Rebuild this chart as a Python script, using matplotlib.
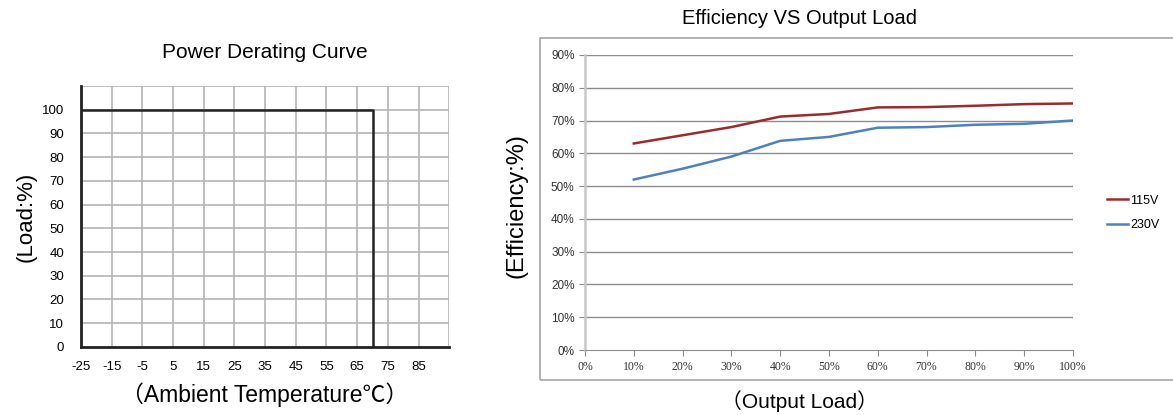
import matplotlib.pyplot as plt
from matplotlib.patches import Rectangle

plt.rcParams['font.family'] = ['Liberation Sans', 'Noto Sans CJK SC', 'DejaVu Sans']
plt.rcParams['axes.unicode_minus'] = False

# derating curve
temp = [-25, 70, 70]
load = [100, 100, 0]
temp_ticks = [-25, -15, -5, 5, 15, 25, 35, 45, 55, 65, 75, 85]
load_ticks = [0, 10, 20, 30, 40, 50, 60, 70, 80, 90, 100]

# efficiency curves
out_load = [10, 20, 30, 40, 50, 60, 70, 80, 90, 100]
eff_115 = [63, 65.5, 68, 71.2, 72, 74, 74.1, 74.5, 75, 75.2]
eff_230 = [52, 55.3, 59, 63.8, 65, 67.8, 68, 68.7, 69, 70]
pct_ticks = [0, 10, 20, 30, 40, 50, 60, 70, 80, 90, 100]
eff_ticks = [0, 10, 20, 30, 40, 50, 60, 70, 80, 90]

fig = plt.figure(figsize=(11.73, 4.15), dpi=100)

# ---- left: Power Derating Curve
ax1 = fig.add_axes([0.069, 0.164, 0.314, 0.629])
ax1.set_xlim(-25, 95)
ax1.set_ylim(0, 110)
for x in temp_ticks[1:] + [95]:
    ax1.axvline(x, color="#b4b4b4", lw=1.2, zorder=1)
for y in load_ticks[1:] + [110]:
    ax1.axhline(y, color="#b4b4b4", lw=1.2, zorder=1)
ax1.plot(temp, load, color="#222222", lw=1.8, zorder=3)
ax1.set_xticks(temp_ticks)
ax1.set_yticks(load_ticks)
ax1.tick_params(length=0, labelsize=9.5, pad=10)
ax1.tick_params(axis="y", pad=12)
for s in ["top", "right"]:
    ax1.spines[s].set_visible(False)
for s in ["left", "bottom"]:
    ax1.spines[s].set_linewidth(2)
    ax1.spines[s].set_color("#222222")
ax1.set_title("Power Derating Curve", fontsize=15, pad=20)
ax1.set_ylabel("(Load:%)", fontsize=16)
ax1.yaxis.set_label_coords(-0.12, 0.5)
ax1.set_xlabel("（Ambient Temperature℃）", fontsize=16.5, labelpad=7)

# ---- right: Efficiency VS Output Load
fig.patches.append(Rectangle((0.4604, 0.0843), 0.6, 0.824, transform=fig.transFigure,
                             fill=False, edgecolor="#a6a6a6", lw=1.2))
fig.text(0.682, 0.955, "Efficiency VS Output Load", ha="center", va="center", fontsize=14.5)

ax2 = fig.add_axes([0.4987, 0.1566, 0.416, 0.711])
ax2.set_xlim(0, 100)
ax2.set_ylim(0, 90)
for y in eff_ticks[1:]:
    ax2.axhline(y, color="#8c8c8c", lw=1, zorder=1)
ax2.plot(out_load, eff_115, color="#9b2b2e", lw=1.8, label="115V", zorder=3)
ax2.plot(out_load, eff_230, color="#4f81bd", lw=1.8, label="230V", zorder=3)
ax2.set_xticks(pct_ticks)
ax2.set_xticklabels([f"{v}%" for v in pct_ticks], family=["Liberation Serif", "DejaVu Serif"])
ax2.set_yticks(eff_ticks)
ax2.set_yticklabels([f"{v}%" for v in eff_ticks])
ax2.tick_params(labelsize=8.5, length=4, color="#8c8c8c", labelcolor="#333333")
ax2.tick_params(axis="x", pad=4)
for s in ["top", "right"]:
    ax2.spines[s].set_visible(False)
ax2.spines["left"].set_color("#c8c8c8")
ax2.spines["left"].set_linewidth(1.8)
ax2.spines["bottom"].set_color("#8c8c8c")
ax2.set_ylabel("(Efficiency:%)", fontsize=17)
ax2.yaxis.set_label_coords(-0.118, 0.49)
ax2.set_xlabel("（Output Load）", fontsize=15)
ax2.xaxis.set_label_coords(0.44, -0.135)
ax2.legend(loc="center left", bbox_to_anchor=(1.046, 0.465), frameon=False, fontsize=9,
           handlelength=1.7, handletextpad=0.2, labelspacing=1.0)

fig.savefig("out.png", dpi=100)
